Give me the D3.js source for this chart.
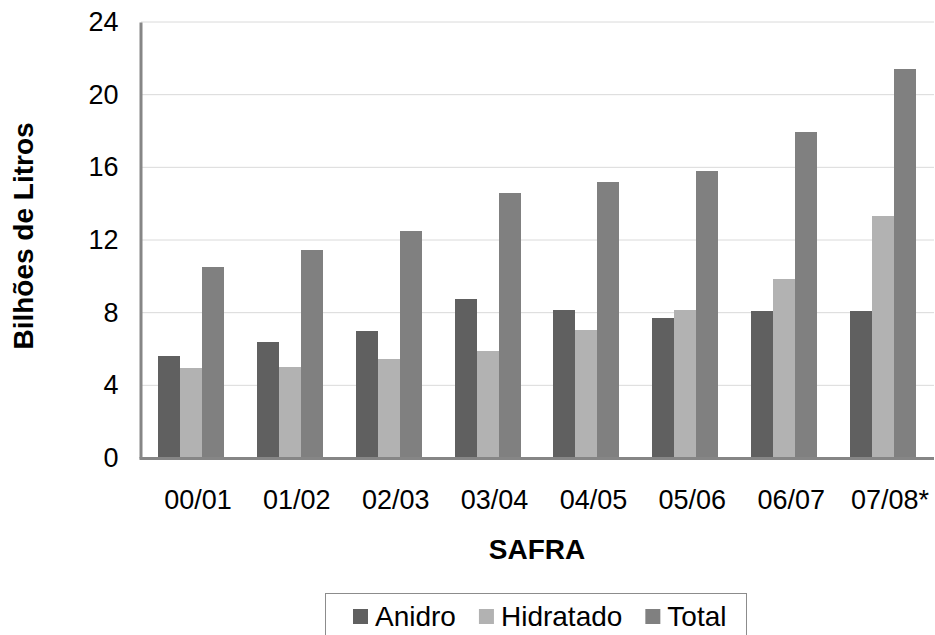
<!DOCTYPE html>
<html>
<head>
<meta charset="utf-8">
<script src="https://cdn.jsdelivr.net/npm/d3@7"></script>
<style>
  html, body { margin: 0; padding: 0; background: #fff; }
  svg { display: block; font-family: "Liberation Sans", Arial, sans-serif; }
</style>
</head>
<body>
<svg id="chart" width="935" height="635"></svg>
<script>
const categories = ["00/01", "01/02", "02/03", "03/04", "04/05", "05/06", "06/07", "07/08*"];
const seriesNames = ["Anidro", "Hidratado", "Total"];
const anidro    = [5.6, 6.4, 7.0, 8.75, 8.15, 7.7, 8.1, 8.1];
const hidratado = [4.95, 5.0, 5.45, 5.9, 7.05, 8.15, 9.85, 13.3];
const total     = [10.5, 11.45, 12.5, 14.6, 15.2, 15.8, 17.95, 21.4];
const yTicks = [0, 4, 8, 12, 16, 20, 24];
const colors = ["#606060", "#b2b2b2", "#808080"];

(function () {
const FONT = "'Liberation Sans', Arial, sans-serif";
const seriesValues = [anidro, hidratado, total];
const rows = categories.map((c, i) => ({
  cat: c,
  vals: seriesNames.map((s, j) => ({ key: s, value: seriesValues[j][i] }))
}));

const svg = d3.select("#chart");
const mLeft = 141.5, mRight = 932.5, mTop = 22, mBottom = 458;

const x0 = d3.scaleBand().domain(categories).range([mLeft, mRight]).paddingInner(0).paddingOuter(0);
const x1 = d3.scaleBand().domain(seriesNames)
  .range([x0.bandwidth() / 6, x0.bandwidth() * 5 / 6]).padding(0);
const y = d3.scaleLinear().domain([0, 24]).range([mBottom, mTop]);
const color = d3.scaleOrdinal().domain(seriesNames).range(colors);

// gridlines
svg.append("g")
  .selectAll("line")
  .data(yTicks.filter(t => t > 0))
  .join("line")
  .attr("x1", mLeft).attr("x2", 934)
  .attr("y1", d => y(d)).attr("y2", d => y(d))
  .attr("stroke", "#b4b4b4")
  .attr("stroke-width", 1)
  .attr("stroke-dasharray", "1,1");

// bars
const groups = svg.append("g")
  .selectAll("g")
  .data(rows)
  .join("g")
  .attr("transform", d => `translate(${x0(d.cat)},0)`);

groups.selectAll("rect")
  .data(d => d.vals)
  .join("rect")
  .attr("x", d => x1(d.key))
  .attr("width", x1.bandwidth())
  .attr("y", d => y(d.value))
  .attr("height", d => y(0) - y(d.value))
  .attr("fill", d => color(d.key))
  .attr("shape-rendering", "crispEdges");

// y axis
const yAxis = svg.append("g")
  .attr("transform", `translate(${mLeft - 1},0)`)
  .call(d3.axisLeft(y).tickValues(yTicks).tickSize(0).tickPadding(22).tickFormat(d3.format("d")));
yAxis.select(".domain").attr("stroke", "#868686").attr("stroke-width", 3);
yAxis.selectAll("text").attr("font-size", 27).attr("fill", "#000")
  .attr("font-family", FONT);

// x axis
const xAxis = svg.append("g")
  .attr("transform", `translate(0,${mBottom + 0.5})`)
  .call(d3.axisBottom(x0).tickSize(0).tickPadding(31));
xAxis.select(".domain").attr("stroke", "#868686").attr("stroke-width", 3)
  .attr("d", `M${mLeft - 2},0H934`);
xAxis.selectAll("text").attr("font-size", 27).attr("fill", "#000").attr("dx", 7)
  .attr("font-family", FONT);

// axis titles
svg.append("text")
  .attr("transform", "translate(33,236) rotate(-90)")
  .attr("text-anchor", "middle")
  .attr("font-family", FONT)
  .attr("font-size", 28).attr("font-weight", "bold")
  .text("Bilhões de Litros");

svg.append("text")
  .attr("x", 537).attr("y", 559)
  .attr("text-anchor", "middle")
  .attr("font-family", FONT)
  .attr("font-size", 28).attr("font-weight", "bold")
  .text("SAFRA");

// legend
const legend = svg.append("g");
legend.append("rect")
  .attr("x", 325.5).attr("y", 593.5).attr("width", 421).attr("height", 60)
  .attr("fill", "none").attr("stroke", "#8c8c8c").attr("stroke-width", 1);
let lx = 353;
seriesNames.forEach((s) => {
  legend.append("rect").attr("x", lx).attr("y", 609).attr("width", 15).attr("height", 15)
    .attr("fill", color(s));
  const t = legend.append("text").attr("x", lx + 22).attr("y", 626)
    .attr("font-family", FONT)
    .attr("font-size", 28).text(s);
  lx += 22 + t.node().getComputedTextLength() + 23;
});
})();
</script>
</body>
</html>
